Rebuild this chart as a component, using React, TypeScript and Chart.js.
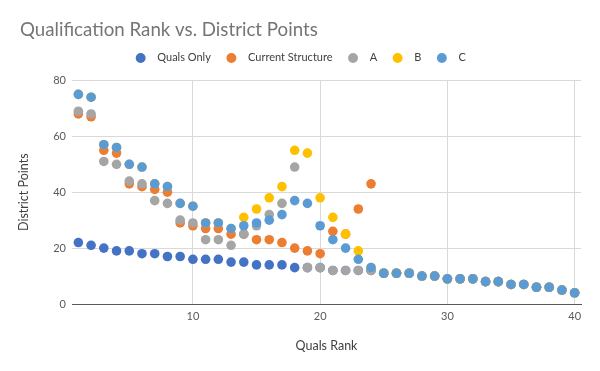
import React, { useEffect, useRef } from "react";
import { Chart, registerables } from "chart.js";

Chart.register(...registerables);

const ranks = [1, 2, 3, 4, 5, 6, 7, 8, 9, 10, 11, 12, 13, 14, 15, 16, 17, 18, 19, 20, 21, 22, 23, 24, 25, 26, 27, 28, 29, 30, 31, 32, 33, 34, 35, 36, 37, 38, 39, 40];
const qualsOnly = [22, 21, 20, 19, 19, 18, 18, 17, 17, 16, 16, 16, 15, 15, 14, 14, 14, 13, 13, 13, 12, 12, 12, 12, 11, 11, 11, 10, 10, 9, 9, 9, 8, 8, 7, 7, 6, 6, 5, 4];
const currentStructure = [68, 67, 55, 54, 43, 42, 41, 40, 29, 28, 27, 27, 25, 25, 23, 23, 22, 20, 19, 18, 26, 25, 34, 43, 11, 11, 11, 10, 10, 9, 9, 9, 8, 8, 7, 7, 6, 6, 5, 4];
const structureA = [69, 68, 51, 50, 44, 43, 37, 36, 30, 29, 23, 23, 21, 25, 28, 32, 36, 49, 13, 13, 12, 12, 12, 12, 11, 11, 11, 10, 10, 9, 9, 9, 8, 8, 7, 7, 6, 6, 5, 4];
const structureB = [75, 74, 57, 56, 50, 49, 43, 42, 36, 35, 29, 29, 27, 31, 34, 38, 42, 55, 54, 38, 31, 25, 19, 13, 11, 11, 11, 10, 10, 9, 9, 9, 8, 8, 7, 7, 6, 6, 5, 4];
const structureC = [75, 74, 57, 56, 50, 49, 43, 42, 36, 35, 29, 29, 27, 28, 29, 30, 32, 37, 36, 28, 23, 20, 16, 13, 11, 11, 11, 10, 10, 9, 9, 9, 8, 8, 7, 7, 6, 6, 5, 4];

const seriesNames = ["Quals Only", "Current Structure", "A", "B", "C"];
const seriesColors = ["#4472C4", "#ED7D31", "#A5A5A5", "#FFC000", "#5B9BD5"];
const xTicks = [10, 20, 30, 40];

const FONT = "Lato, 'Open Sans', sans-serif";

export default function App() {
  const ref = useRef<HTMLCanvasElement | null>(null);

  useEffect(() => {
    const canvas = ref.current;
    if (!canvas) return;
    const seriesValues = [qualsOnly, currentStructure, structureA, structureB, structureC];
    const n = seriesNames.length;
    const datasets = seriesNames.map((name, i) => ({
      label: name,
      data: ranks.map((r, j) => ({ x: r, y: seriesValues[i][j] })),
      backgroundColor: seriesColors[i],
      borderColor: seriesColors[i],
      borderWidth: 0,
      pointRadius: 4.8,
      pointHoverRadius: 4.8,
      showLine: false,
      order: n - 1 - i,
    }));

    const legendPatch = {
      id: "legendPatch",
      beforeLayout(chart: any) {
        const lg = chart.legend;
        if (lg && !lg.__patched) {
          const orig = lg.fit.bind(lg);
          lg.fit = function () {
            orig();
            this.height += 7;
          };
          lg.__patched = true;
        }
      },
    };

    const chart = new Chart(canvas, {
      type: "scatter",
      data: { datasets },
      plugins: [legendPatch],
      options: {
        responsive: false,
        animation: false,
        events: [],
        layout: { padding: { left: 20, right: 19, top: 0, bottom: 0 } },
        plugins: {
          tooltip: { enabled: false },
          title: {
            display: true,
            text: "Qualification Rank vs. District Points",
            align: "start",
            color: "#757575",
            font: { family: FONT, size: 18.7, weight: "normal" },
            padding: { top: 19, bottom: -4 } as any,
          },
          legend: {
            display: true,
            position: "top",
            labels: {
              usePointStyle: true,
              pointStyle: "circle",
              boxWidth: 11,
              boxHeight: 7,
              padding: 15,
              color: "#404040",
              font: { family: FONT, size: 11 },
              sort: (a: any, b: any) => a.datasetIndex - b.datasetIndex,
              generateLabels: (c: any) =>
                Chart.defaults.plugins.legend.labels.generateLabels(c).map((l: any) => ({
                  ...l,
                  text: "  " + l.text,
                  lineWidth: 0,
                })),
            },
          },
        },
        scales: {
          x: {
            type: "linear",
            min: 0.5,
            max: 40.5,
            afterBuildTicks: (s: any) => {
              s.ticks = xTicks.map((v) => ({ value: v }));
            },
            afterFit: (s: any) => {
              s.height = 67;
            },
            grid: { color: "#D9D9D9", drawTicks: false },
            border: { display: true, color: "#595959", width: 1 },
            ticks: { color: "#595959", padding: 6, font: { family: FONT, size: 11 } },
            title: {
              display: true,
              text: "Quals Rank",
              color: "#404040",
              font: { family: FONT, size: 12.5 },
              padding: { top: 0, bottom: 18 },
            },
          },
          y: {
            type: "linear",
            min: 0,
            max: 80,
            afterFit: (s: any) => {
              s.width = 52;
            },
            grid: { color: "#D9D9D9", drawTicks: false },
            border: { display: false },
            ticks: { stepSize: 20, color: "#595959", padding: 6, font: { family: FONT, size: 11 } },
            title: {
              display: true,
              text: "District Points",
              color: "#404040",
              font: { family: FONT, size: 12.5 },
              padding: { top: -4, bottom: 0 },
            },
          },
        },
      },
    });
    return () => chart.destroy();
  }, []);

  return (
    <div style={{ position: "fixed", left: 0, top: 0, width: 600, height: 371, background: "#fff" }}>
      <canvas ref={ref} width={600} height={371} style={{ width: 600, height: 371, display: "block" }} />
    </div>
  );
}
